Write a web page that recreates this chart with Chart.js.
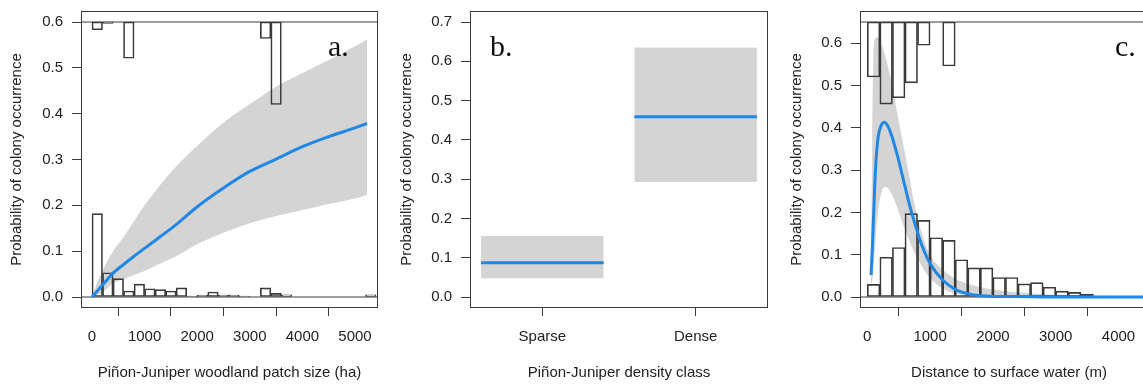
<!DOCTYPE html>
<html>
<head>
<meta charset="utf-8">
<script src="https://cdn.jsdelivr.net/npm/chart.js@4"></script>
<style>
  html, body { margin: 0; padding: 0; background: #fff; overflow: hidden; }
  #wrap { position: relative; width: 1143px; height: 384px; overflow: hidden; }
  canvas { position: absolute; top: 0; }
</style>
</head>
<body>
<div id="wrap">
  <canvas id="chartA" width="385" height="384" style="left:0px"></canvas>
  <canvas id="chartB" width="385" height="384" style="left:390px"></canvas>
  <canvas id="chartC" width="385" height="384" style="left:780px"></canvas>
</div>
<script>
// a. patch size
const patchSize = [0, 100, 200, 400, 600, 800, 1000, 1300, 1600, 2000, 2500, 3000, 3500, 4000, 4500, 5000, 5228];
const patchFit = [0, 0.013, 0.026, 0.052, 0.071, 0.089, 0.106, 0.132, 0.158, 0.197, 0.238, 0.274, 0.301, 0.328, 0.350, 0.369, 0.379];
const patchUpper = [0, 0.032, 0.058, 0.100, 0.131, 0.166, 0.200, 0.245, 0.285, 0.330, 0.381, 0.421, 0.459, 0.489, 0.517, 0.547, 0.562];
const patchLower = [0, 0.004, 0.010, 0.030, 0.039, 0.048, 0.057, 0.073, 0.089, 0.115, 0.140, 0.161, 0.177, 0.190, 0.203, 0.215, 0.223];
const patchAbsentMid = [100, 300, 500, 700, 900, 1100, 1300, 1500, 1700, 1900, 2100, 2300, 2500, 2700, 2900, 3300, 3500, 3700, 5300];
const patchAbsent = [0.182, 0.053, 0.040, 0.013, 0.028, 0.018, 0.016, 0.013, 0.020, 0.002, 0.004, 0.011, 0.004, 0.004, 0.002, 0.020, 0.008, 0.005, 0.005];
const patchPresentMid = [100, 300, 700, 3300, 3500];
const patchPresent = [0.017, 0.003, 0.079, 0.036, 0.180];
const patchXTicks = [0, 1000, 2000, 3000, 4000, 5000];
const patchYTicks = [0, 0.1, 0.2, 0.3, 0.4, 0.5, 0.6];

// b. density class
const densityClasses = ['Sparse', 'Dense'];
const densityFit = [0.087, 0.459];
const densityUpper = [0.155, 0.635];
const densityLower = [0.048, 0.293];
const densityYTicks = [0, 0.1, 0.2, 0.3, 0.4, 0.5, 0.6, 0.7];

// c. distance to water
const waterDist = [60, 80, 100, 130, 170, 220, 271, 330, 400, 480, 560, 650, 750, 860, 1000, 1200, 1400, 1650, 1950, 2400, 3000, 3600, 4454];
const waterFit = [0.052, 0.115, 0.190, 0.300, 0.375, 0.405, 0.413, 0.403, 0.376, 0.334, 0.286, 0.231, 0.177, 0.126, 0.079, 0.040, 0.018, 0.006, 0.002, 0.001, 0, 0, 0];
const waterUpper = [0.10, 0.38, 0.58, 0.612, 0.614, 0.600, 0.578, 0.545, 0.497, 0.432, 0.370, 0.300, 0.220, 0.155, 0.100, 0.065, 0.043, 0.029, 0.019, 0.011, 0.005, 0.003, 0.001];
const waterLower = [0.02, 0.04, 0.07, 0.13, 0.20, 0.243, 0.260, 0.257, 0.240, 0.210, 0.175, 0.140, 0.105, 0.075, 0.045, 0.020, 0.008, 0.002, 0.001, 0, 0, 0, 0];
const waterAbsentMid = [100, 300, 500, 700, 900, 1100, 1300, 1500, 1700, 1900, 2100, 2300, 2500, 2700, 2900, 3100, 3300, 3500, 3900, 4100];
const waterAbsent = [0.030, 0.094, 0.117, 0.197, 0.181, 0.140, 0.134, 0.088, 0.069, 0.069, 0.046, 0.046, 0.031, 0.034, 0.023, 0.014, 0.011, 0.007, 0.001, 0.001];
const waterPresentMid = [100, 300, 500, 700, 900, 1300];
const waterPresent = [0.130, 0.194, 0.179, 0.144, 0.055, 0.104];
const waterXTicks = [0, 1000, 2000, 3000, 4000];
const waterYTicks = [0, 0.1, 0.2, 0.3, 0.4, 0.5, 0.6];

const BLUE = '#2088e4';
const BAND = '#d4d4d4';
const INK = '#3a3a3a';
const FONT = "'Liberation Sans', Arial, sans-serif";
const YTITLE = 'Probability of colony occurrence';

Chart.defaults.font.family = FONT;
Chart.defaults.color = '#222';

function pts(xs, ys) {
  return xs.map((x, i) => ({ x: x, y: ys[i] }));
}

function bandSets(xs, lo, hi) {
  return [
    { type: 'line', data: pts(xs, hi), fill: '+1', backgroundColor: BAND, borderColor: 'transparent', borderWidth: 0, pointRadius: 0, cubicInterpolationMode: 'monotone', order: 3 },
    { type: 'line', data: pts(xs, lo), fill: false, borderColor: 'transparent', borderWidth: 0, pointRadius: 0, cubicInterpolationMode: 'monotone', order: 3 }
  ];
}

function fitSet(xs, ys) {
  return { type: 'line', data: pts(xs, ys), borderColor: BLUE, borderWidth: 3, pointRadius: 0, fill: false, cubicInterpolationMode: 'monotone', order: 0 };
}

function histSet(mids, lows, highs) {
  return {
    type: 'bar',
    data: mids.map((m, i) => ({ x: m, y: [lows[i], highs[i]] })),
    grouped: false, barPercentage: 1, categoryPercentage: 1,
    backgroundColor: 'rgba(0,0,0,0)', borderColor: INK, borderWidth: 1, borderSkipped: false,
    order: 2
  };
}

function hline(x0, x1, y) {
  return { type: 'line', data: [{ x: x0, y: y }, { x: x1, y: y }], borderColor: INK, borderWidth: 1, pointRadius: 0, fill: false, order: 1 };
}

const boxPlugin = {
  id: 'box',
  afterDatasetsDraw(chart, args, opts) {
    const a = chart.chartArea;
    const ctx = chart.ctx;
    ctx.save();
    ctx.strokeStyle = INK;
    ctx.lineWidth = 1;
    const l = Math.round(a.left), t = Math.round(a.top), r = Math.round(a.right), b = Math.round(a.bottom);
    ctx.strokeRect(l + 0.5, t + 0.5, r - l - 1, b - t - 1);
    ctx.fillStyle = '#111';
    ctx.font = "30px 'Liberation Serif', 'Times New Roman', serif";
    ctx.textBaseline = 'alphabetic';
    ctx.fillText(opts.letter, opts.lx, opts.ly);
    ctx.restore();
  }
};

function makePanel(id, o) {
  new Chart(document.getElementById(id), {
    type: 'line',
    data: { datasets: o.datasets },
    options: {
      responsive: false,
      animation: false,
      layout: { padding: { top: 11, right: 7, left: 0, bottom: 0 } },
      plugins: { legend: { display: false }, tooltip: { enabled: false }, box: o.box },
      scales: {
        x: {
          type: 'linear', min: o.xMin, max: o.xMax, offset: false,
          afterBuildTicks: s => { s.ticks = o.xTicks.map(v => ({ value: v })); },
          afterFit: s => { s.height = 76; s.paddingLeft = 0; s.paddingRight = 0; },
          ticks: { autoSkip: false, maxRotation: 0, padding: 12, color: '#222', font: { size: 15 }, callback: o.xLabel },
          grid: { drawOnChartArea: false, tickLength: 8, tickColor: INK, tickWidth: 1 },
          border: { display: false },
          title: { display: true, text: o.xTitle, color: '#222', font: { size: 15 }, padding: { top: 0, bottom: 2 } }
        },
        y: {
          type: 'linear', min: o.yMin, max: o.yMax,
          afterBuildTicks: s => { s.ticks = o.yTicks.map(v => ({ value: v })); },
          afterFit: s => { s.width = o.yWidth; s.paddingTop = 0; s.paddingBottom = 0; },
          ticks: { padding: 9, color: '#222', font: { size: 15 }, callback: v => v.toFixed(1) },
          grid: { drawOnChartArea: false, tickLength: 9, tickColor: INK, tickWidth: 1 },
          border: { display: false },
          title: { display: true, text: YTITLE, color: '#222', font: { size: 15 }, padding: { top: 8, bottom: 0 } }
        }
      }
    },
    plugins: [boxPlugin]
  });
}

// panel a
const aXMin = -209, aXMax = 5437;
makePanel('chartA', {
  xMin: aXMin, xMax: aXMax, yMin: -0.024, yMax: 0.624, yWidth: 81,
  xTicks: patchXTicks, yTicks: patchYTicks,
  xLabel: v => String(v),
  xTitle: 'Piñon-Juniper woodland patch size (ha)',
  box: { letter: 'a.', lx: 328, ly: 56 },
  datasets: [
    fitSet(patchSize, patchFit),
    hline(aXMin, aXMax, 0),
    hline(aXMin, aXMax, 0.6),
    histSet(patchAbsentMid, patchAbsentMid.map(() => 0), patchAbsent),
    histSet(patchPresentMid, patchPresent.map(d => 0.6 - d), patchPresentMid.map(() => 0.6)),
    ...bandSets(patchSize, patchLower, patchUpper)
  ]
});

// panel b
const bSets = [];
densityClasses.forEach((c, i) => {
  const xs = [i + 1 - 0.4, i + 1 + 0.4];
  bSets.push(fitSet(xs, [densityFit[i], densityFit[i]]));
});
densityClasses.forEach((c, i) => {
  const xs = [i + 1 - 0.4, i + 1 + 0.4];
  bSets.push(...bandSets(xs, [densityLower[i], densityLower[i]], [densityUpper[i], densityUpper[i]]));
});
makePanel('chartB', {
  xMin: 0.528, xMax: 2.472, yMin: -0.028, yMax: 0.728, yWidth: 80,
  xTicks: [1, 2], yTicks: densityYTicks,
  xLabel: (v, i) => densityClasses[i],
  xTitle: 'Piñon-Juniper density class',
  box: { letter: 'b.', lx: 100, ly: 56 },
  datasets: bSets
});

// panel c
const cXMin = -116, cXMax = 4629;
makePanel('chartC', {
  xMin: cXMin, xMax: cXMax, yMin: -0.026, yMax: 0.676, yWidth: 80,
  xTicks: waterXTicks, yTicks: waterYTicks,
  xLabel: v => String(v),
  xTitle: 'Distance to surface water (m)',
  box: { letter: 'c.', lx: 335, ly: 56 },
  datasets: [
    fitSet(waterDist, waterFit),
    hline(cXMin, cXMax, 0),
    hline(cXMin, cXMax, 0.65),
    histSet(waterAbsentMid, waterAbsentMid.map(() => 0), waterAbsent),
    histSet(waterPresentMid, waterPresent.map(d => 0.65 - d), waterPresentMid.map(() => 0.65)),
    ...bandSets(waterDist, waterLower, waterUpper)
  ]
});
</script>
</body>
</html>
